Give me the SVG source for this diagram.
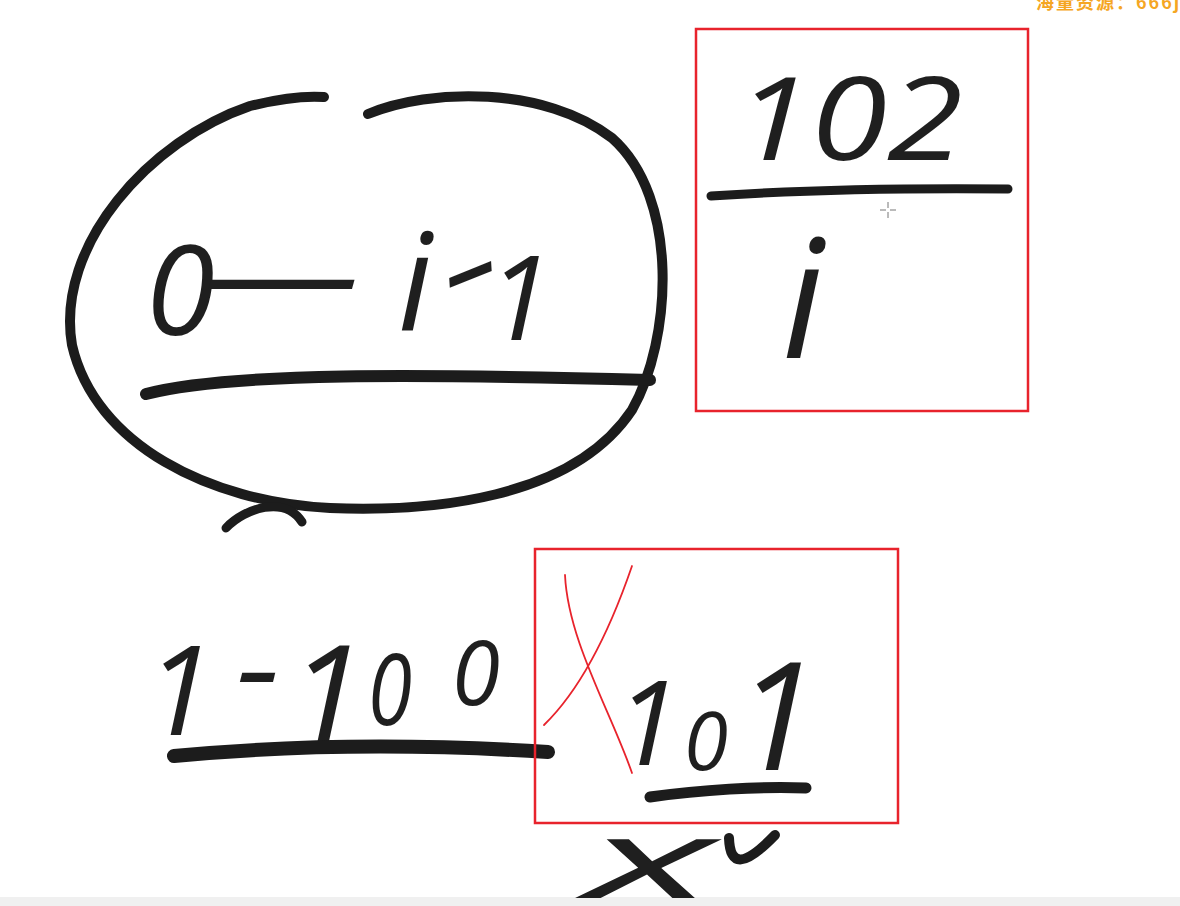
<svg xmlns="http://www.w3.org/2000/svg" width="1180" height="906" viewBox="0 0 1180 906">
<style>
.ink{fill:none;stroke:#1c1c1c;stroke-linecap:round;stroke-linejoin:round}
.hw{font-family:"Open Sans","Liberation Sans",sans-serif;font-style:italic;font-weight:400;fill:#1f1f1f}
.red{fill:none;stroke:#e8232c;stroke-width:2.5}
.redx{fill:none;stroke:#e8232c;stroke-width:1.8;stroke-linecap:round}
</style>
<rect width="1180" height="906" fill="#ffffff"/>
<rect x="0" y="897" width="1180" height="9" fill="#f0f0f0"/>
<text x="1036" y="9" font-family="'Noto Sans CJK SC',sans-serif" font-size="18" font-weight="bold" letter-spacing="2" fill="#f5a623">海量资源：666j</text>

<g id="circle-group">
<path class="ink" stroke-width="10" d="M368,114 C430,88 545,86 612,138 C680,198 672,340 632,410 C572,500 430,512 330,508 C210,502 95,445 72,345 C55,245 150,140 250,106 C290,96 310,96 324,97"/>
<text class="hw" font-size="125"><tspan x="146" y="335">0</tspan><tspan x="204" y="318" textLength="156" lengthAdjust="spacingAndGlyphs">—</tspan></text>
<text class="hw" x="398" y="330" font-size="135">i</text>
<text class="hw" x="440" y="308" font-size="125" textLength="60" lengthAdjust="spacingAndGlyphs" transform="rotate(-22 470 272)">-</text>
<text class="hw" x="487" y="340" font-size="118">1</text>
<path class="ink" stroke-width="12" d="M146,394 C230,372 420,374 650,380"/>
</g>

<g id="box-top">
<rect class="red" x="696" y="29" width="332" height="382"/>
<text class="hw" x="735" y="160" font-size="115" textLength="228" lengthAdjust="spacingAndGlyphs">102</text>
<path class="ink" stroke-width="9" d="M711,196 C800,190 900,188 1008,189"/>
<text class="hw" x="782" y="358" font-size="165" font-weight="300">i</text>
<g stroke="#777" stroke-width="1">
<line x1="880" y1="210" x2="886" y2="210"/><line x1="890" y1="210" x2="896" y2="210"/>
<line x1="888" y1="202" x2="888" y2="208"/><line x1="888" y1="212" x2="888" y2="218"/>
</g>
</g>

<g id="link">
<path class="ink" stroke-width="9" d="M226,528 C245,508 285,495 302,522"/>
</g>

<g id="range">
<text class="hw" x="145" y="735" font-size="125">1</text>
<text class="hw" x="236" y="711" font-size="125" textLength="44" lengthAdjust="spacingAndGlyphs">-</text>
<text class="hw" x="288" y="745" font-size="140">1</text>
<text class="hw" x="368" y="725" font-size="98" textLength="44" lengthAdjust="spacingAndGlyphs">0</text>
<text class="hw" x="452" y="705" font-size="90" textLength="48" lengthAdjust="spacingAndGlyphs">0</text>
<path class="ink" stroke-width="14" d="M174,756 C300,744 420,744 548,752"/>
</g>

<g id="box-bottom">
<rect class="red" x="535" y="549" width="363" height="274"/>
<path class="redx" d="M565,575 C568,640 610,710 632,773"/>
<path class="redx" d="M632,566 C610,630 580,690 544,725"/>
<text class="hw" x="615" y="765" font-size="118">1</text>
<text class="hw" x="684" y="770" font-size="80" textLength="44" lengthAdjust="spacingAndGlyphs">0</text>
<text class="hw" x="735" y="770" font-size="150">1</text>
<path class="ink" stroke-width="11" d="M650,797 C700,790 760,786 806,788"/>
</g>

<g id="marks">
<text class="hw" x="585" y="898" font-size="110" font-weight="300" textLength="130" lengthAdjust="spacingAndGlyphs">x</text>
<path class="ink" stroke-width="10" d="M729,838 C730,868 745,866 775,835"/>
</g>
</svg>
